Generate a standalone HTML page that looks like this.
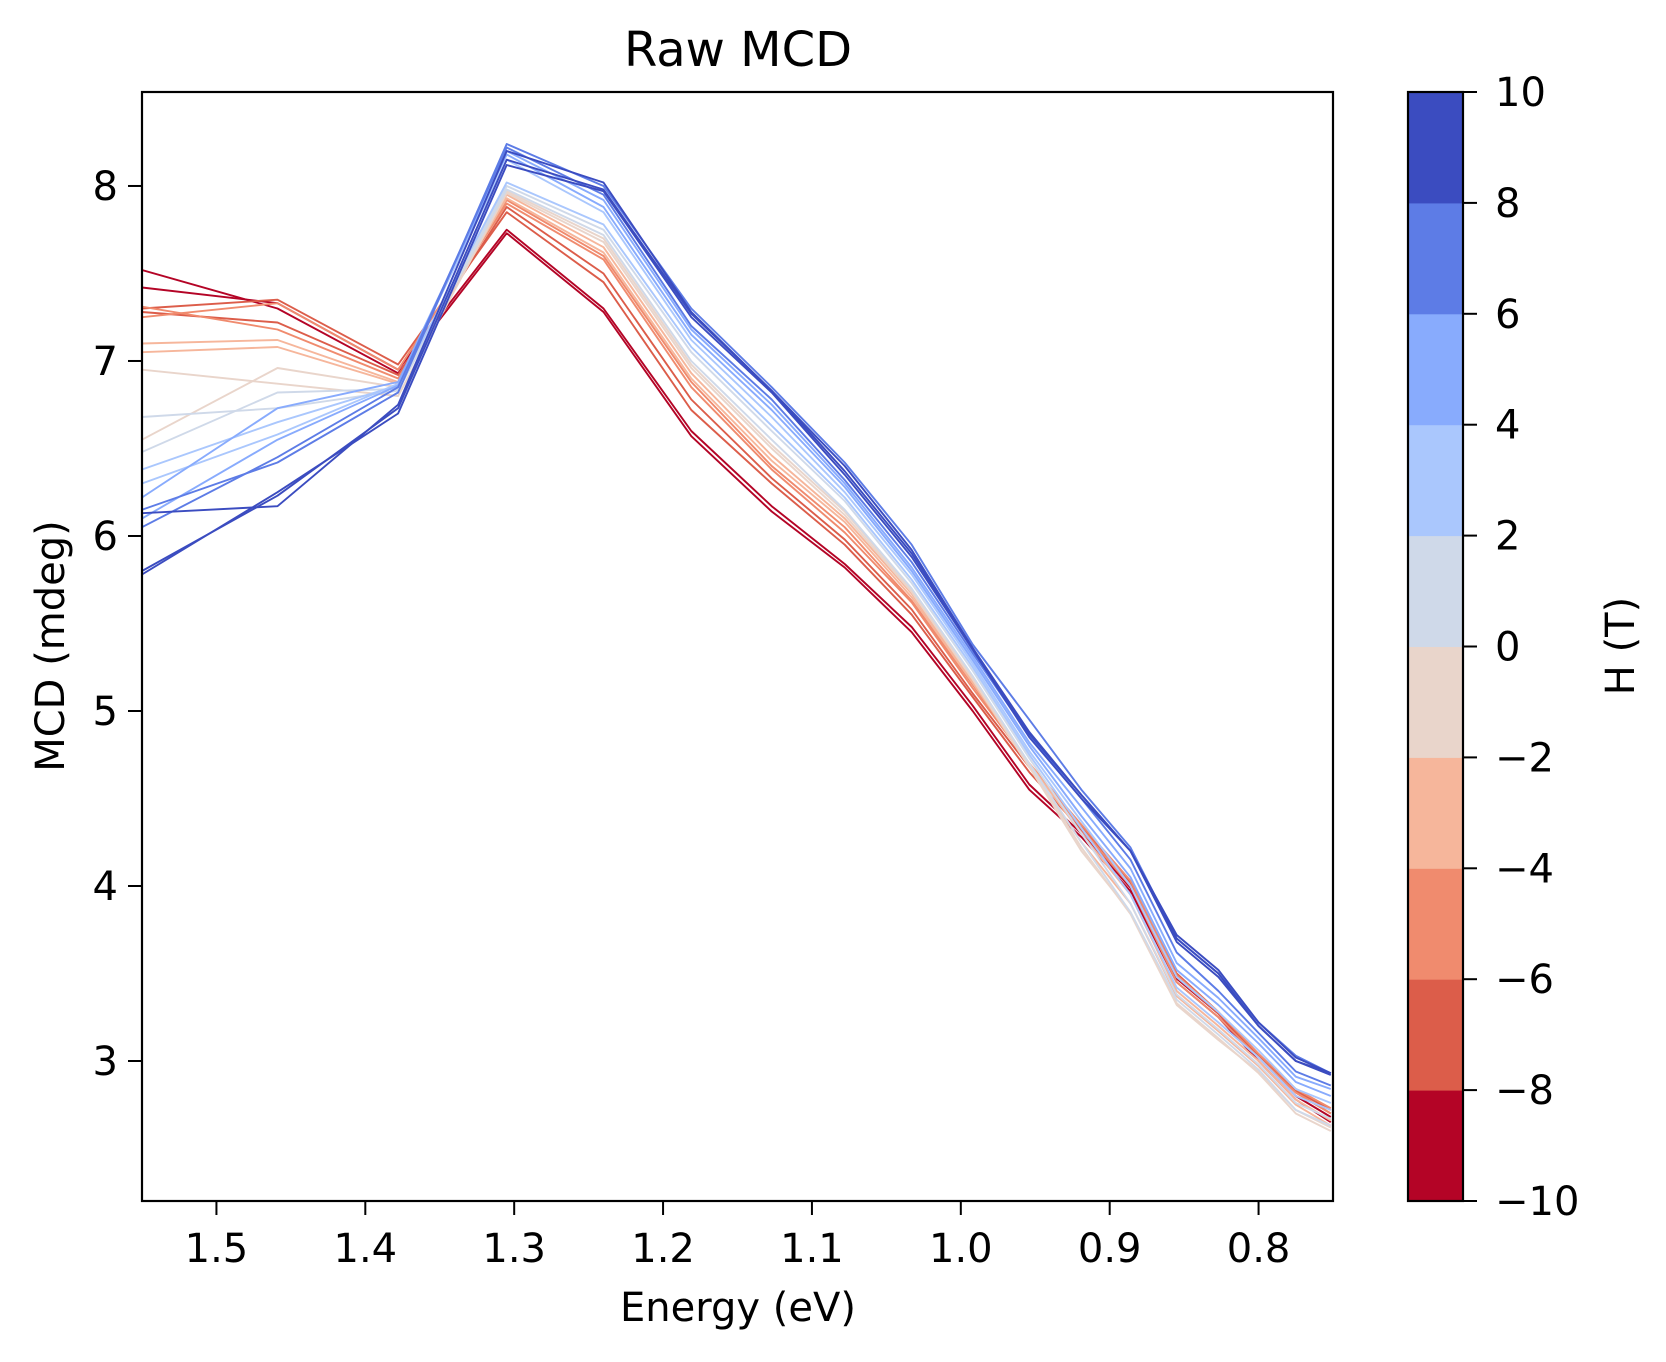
<!DOCTYPE html>
<html><head><meta charset="utf-8"><style>
body{margin:0;background:#fff}
svg text{font-family:"DejaVu Sans","Liberation Sans",sans-serif;fill:#000}
</style></head><body>
<svg id="chart" width="1666" height="1357" xmlns="http://www.w3.org/2000/svg">
<defs><clipPath id="clip"><rect x="142" y="92" width="1191" height="1109"/></clipPath></defs>
<rect width="1666" height="1357" fill="#fff"/>
<text x="738" y="66" font-size="48" text-anchor="middle">Raw MCD</text>
<g id="lines" clip-path="url(#clip)"></g>
<rect x="142" y="92" width="1191" height="1109" fill="none" stroke="#000" stroke-width="2.2"/>
<g id="xticks"></g>
<g id="yticks"></g>
<text x="738" y="1321" font-size="40" text-anchor="middle">Energy (eV)</text>
<text transform="translate(64,646) rotate(-90)" font-size="40" text-anchor="middle">MCD (mdeg)</text>
<g id="cbar"></g>
<text transform="translate(1634,646) rotate(-90)" font-size="40" text-anchor="middle">H (T)</text>
</svg>
<script>
const energies=[1.55,1.459,1.378,1.305,1.24,1.181,1.127,1.078,1.033,0.992,0.954,0.919,0.886,0.855,0.827,0.8,0.775,0.7515];
const fields=[-10,-9,-8,-7,-6,-5,-4,-3,-2,-1,0,1,2,3,4,5,6,7,8,9,10];
const s_m10=[7.52,7.30,6.93,7.73,7.28,6.57,6.14,5.82,5.45,5.00,4.55,4.28,3.97,3.45,3.25,3.00,2.78,2.65];
const s_m9=[7.42,7.33,6.95,7.75,7.30,6.60,6.17,5.84,5.48,5.03,4.58,4.30,3.99,3.47,3.27,3.02,2.80,2.68];
const s_m8=[7.30,7.35,6.98,7.85,7.45,6.72,6.30,5.95,5.55,5.08,4.65,4.32,4.00,3.48,3.27,3.03,2.82,2.70];
const s_m7=[7.28,7.22,6.92,7.88,7.50,6.78,6.33,5.98,5.58,5.10,4.68,4.34,4.02,3.50,3.28,3.04,2.83,2.72];
const s_m6=[7.25,7.33,6.95,7.90,7.58,6.85,6.38,6.02,5.62,5.13,4.70,4.35,4.03,3.49,3.28,3.04,2.84,2.73];
const s_m5=[7.31,7.18,6.90,7.92,7.60,6.88,6.40,6.05,5.63,5.15,4.70,4.33,4.00,3.45,3.25,3.02,2.82,2.70];
const s_m4=[7.10,7.12,6.88,7.93,7.62,6.90,6.43,6.08,5.65,5.16,4.70,4.30,3.95,3.40,3.20,3.00,2.78,2.66];
const s_m3=[7.05,7.08,6.87,7.95,7.65,6.93,6.46,6.10,5.67,5.17,4.68,4.25,3.90,3.37,3.17,2.97,2.75,2.63];
const s_m2=[6.95,6.87,6.80,7.96,7.68,6.96,6.50,6.12,5.68,5.18,4.68,4.20,3.85,3.33,3.13,2.93,2.70,2.60];
const s_m1=[6.55,6.96,6.85,7.97,7.70,6.98,6.52,6.14,5.69,5.19,4.69,4.22,3.84,3.32,3.12,2.94,2.72,2.62];
const s_0=[6.68,6.73,6.83,7.98,7.72,7.00,6.55,6.15,5.70,5.20,4.70,4.25,3.85,3.35,3.15,2.95,2.72,2.63];
const s_p1=[6.48,6.82,6.84,8.00,7.75,7.05,6.60,6.20,5.73,5.23,4.73,4.30,3.90,3.38,3.18,2.98,2.76,2.67];
const s_p2=[6.38,6.65,6.86,8.02,7.78,7.08,6.63,6.22,5.75,5.25,4.75,4.33,3.95,3.42,3.22,3.02,2.80,2.72];
const s_p3=[6.30,6.58,6.87,8.15,7.85,7.12,6.68,6.25,5.78,5.27,4.77,4.37,4.00,3.48,3.28,3.06,2.84,2.76];
const s_p4=[6.22,6.73,6.88,8.18,7.88,7.15,6.72,6.28,5.80,5.29,4.80,4.40,4.05,3.52,3.32,3.10,2.88,2.80];
const s_p5=[6.10,6.55,6.86,8.20,7.92,7.18,6.75,6.30,5.82,5.31,4.82,4.45,4.10,3.56,3.36,3.13,2.91,2.84];
const s_p6=[6.05,6.45,6.85,8.22,7.95,7.20,6.78,6.32,5.85,5.33,4.86,4.50,4.15,3.62,3.40,3.16,2.94,2.86];
const s_p7=[6.15,6.42,6.82,8.24,8.00,7.30,6.85,6.42,5.95,5.38,4.95,4.55,4.22,3.70,3.50,3.22,3.03,2.93];
const s_p8=[6.13,6.17,6.75,8.20,8.02,7.28,6.83,6.40,5.92,5.36,4.88,4.52,4.20,3.72,3.52,3.22,3.02,2.93];
const s_p9=[5.80,6.23,6.73,8.15,7.98,7.27,6.83,6.37,5.90,5.36,4.87,4.52,4.20,3.68,3.48,3.20,3.00,2.92];
const s_p10=[5.78,6.25,6.70,8.12,7.97,7.25,6.82,6.35,5.88,5.35,4.85,4.50,4.20,3.70,3.50,3.20,3.00,2.93];
const series=[s_m10,s_m9,s_m8,s_m7,s_m6,s_m5,s_m4,s_m3,s_m2,s_m1,s_0,s_p1,s_p2,s_p3,s_p4,s_p5,s_p6,s_p7,s_p8,s_p9,s_p10];
const xTickVals=[1.5,1.4,1.3,1.2,1.1,1.0,0.9,0.8];
const xTickLabels=["1.5","1.4","1.3","1.2","1.1","1.0","0.9","0.8"];
const yTickVals=[3,4,5,6,7,8];
const yTickLabels=["3","4","5","6","7","8"];
const cbarTicks=[-10,-8,-6,-4,-2,0,2,4,6,8,10];
const cbarLabels=["\u221210","\u22128","\u22126","\u22124","\u22122","0","2","4","6","8","10"];
const cbarColors=["#b40426","#dc5d4a","#f08b6e","#f6b69b","#e9d5cb","#cfd9e9","#aac7fd","#88abfd","#5d7ce6","#3b4cc0"];

const NS="http://www.w3.org/2000/svg";
const X0=142,X1=1333,Y0=92,Y1=1201;
const xMin=1.55,xMax=0.75,yMin=2.2,yMax=8.537;
const sx=v=>X0+(v-xMin)/(xMax-xMin)*(X1-X0);
const sy=v=>Y1-(v-yMin)/(yMax-yMin)*(Y1-Y0);
const cb=v=>Y1-(v+10)/20*(Y1-Y0);
function mk(tag,attrs,parent){const e=document.createElementNS(NS,tag);for(const k in attrs)e.setAttribute(k,attrs[k]);parent.appendChild(e);return e;}

const lines=document.getElementById('lines');
series.forEach((s,i)=>{
  const h=fields[i];
  const bin=Math.min(9,Math.floor((h+10)/2));
  const p=mk('polyline',{points:s.map((v,j)=>sx(energies[j]).toFixed(1)+','+sy(v).toFixed(1)).join(' '),fill:'none',stroke:cbarColors[bin],'stroke-width':1.9,'stroke-linejoin':'round'},lines);
  
  
});

const xt=document.getElementById('xticks');
xTickVals.forEach((v,i)=>{
  const x=sx(v);
  const t=mk('line',{x1:x,x2:x,y1:Y1,y2:Y1+14,stroke:'#000','stroke-width':2},xt);
  
  
  const l=mk('text',{x:x,y:Y1+61,'font-size':40,'text-anchor':'middle'},xt);
  l.textContent=xTickLabels[i];
  
  
});
const yt=document.getElementById('yticks');
yTickVals.forEach((v,i)=>{
  const y=sy(v);
  const t=mk('line',{x1:X0-14,x2:X0,y1:y,y2:y,stroke:'#000','stroke-width':2},yt);
  
  
  const l=mk('text',{x:X0-24,y:y+14,'font-size':40,'text-anchor':'end'},yt);
  l.textContent=yTickLabels[i];
  
  
});
const cbg=document.getElementById('cbar');
const CX=1408,CW=55;
cbarColors.forEach((c,i)=>{
  const a=cbarTicks[i],b=cbarTicks[i+1];
  const r=mk('rect',{x:CX,y:cb(b),width:CW,height:cb(a)-cb(b)+0.5,fill:c},cbg);
  
  
});
mk('rect',{x:CX,y:Y0,width:CW,height:Y1-Y0,fill:'none',stroke:'#000','stroke-width':2.2},cbg);
cbarTicks.forEach((v,i)=>{
  const y=cb(v);
  const t=mk('line',{x1:CX+CW,x2:CX+CW+14,y1:y,y2:y,stroke:'#000','stroke-width':2},cbg);
  
  
  const l=mk('text',{x:1495,y:y+14,'font-size':40},cbg);
  l.textContent=cbarLabels[i];
  
  
});
</script>
</body></html>
